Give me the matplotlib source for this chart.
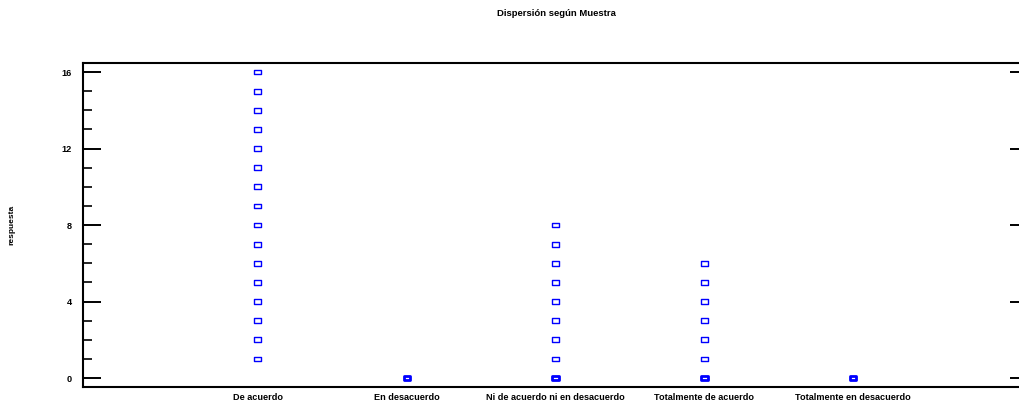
import matplotlib
matplotlib.use("Agg")
import matplotlib.pyplot as plt
from matplotlib.path import Path
from matplotlib.ticker import MultipleLocator

categories = ["De acuerdo", "En desacuerdo", "Ni de acuerdo ni en desacuerdo",
              "Totalmente de acuerdo", "Totalmente en desacuerdo"]
respuesta = [
    [1, 2, 3, 4, 5, 6, 7, 8, 9, 10, 11, 12, 13, 14, 15, 16],
    [0],
    [0, 1, 2, 3, 4, 5, 6, 7, 8],
    [0, 1, 2, 3, 4, 5, 6],
    [0],
]
title = "Dispersión según Muestra"
ylabel = "respuesta"

plt.rcParams["font.family"] = ["Liberation Sans", "DejaVu Sans"]
plt.rcParams["font.weight"] = "bold"

fig = plt.figure(figsize=(10.2, 4.05), dpi=100)
ax = fig.add_axes([0.0814, 0.0444, 0.9264, 0.80])

# wide hollow rectangle marker
rect = Path([(-1, -0.7), (1, -0.7), (1, 0.7), (-1, 0.7), (-1, -0.7)],
            [Path.MOVETO, Path.LINETO, Path.LINETO, Path.LINETO, Path.CLOSEPOLY])

for i, vals in enumerate(respuesta):
    xs = [i] * len(vals)
    lw = [2.0 if v == 0 else 1.0 for v in vals]
    ax.scatter(xs, vals, marker=rect, s=24, facecolors="white",
               edgecolors="#0000ff", linewidths=lw, zorder=3, clip_on=False)

ax.set_xlim(-1.175, 5.175)
ax.set_ylim(-0.47, 16.47)
ax.set_xticks(range(len(categories)))
ax.set_xticklabels(categories, fontsize=6.6, fontweight="bold")
ax.tick_params(axis="x", length=0, pad=4.5)

ax.yaxis.set_major_locator(MultipleLocator(4))
ax.yaxis.set_minor_locator(MultipleLocator(1))
ax.tick_params(axis="y", which="major", direction="in", length=13, width=1.4,
               left=True, right=True, labelsize=6.6, pad=8)
ax.tick_params(axis="y", which="minor", direction="in", length=6.5, width=1.2,
               left=True, right=True)
for lab in ax.get_yticklabels():
    lab.set_fontweight("bold")

for side in ["left", "top", "bottom", "right"]:
    ax.spines[side].set_linewidth(1.5)

fig.text(0.5455, 0.966, title, ha="center", va="center", fontsize=6.8,
         fontweight="bold")
fig.text(0.012, 0.444, ylabel, ha="center", va="center", rotation=90,
         fontsize=6, fontweight="bold")

fig.savefig("out.png", dpi=100, facecolor="white")
